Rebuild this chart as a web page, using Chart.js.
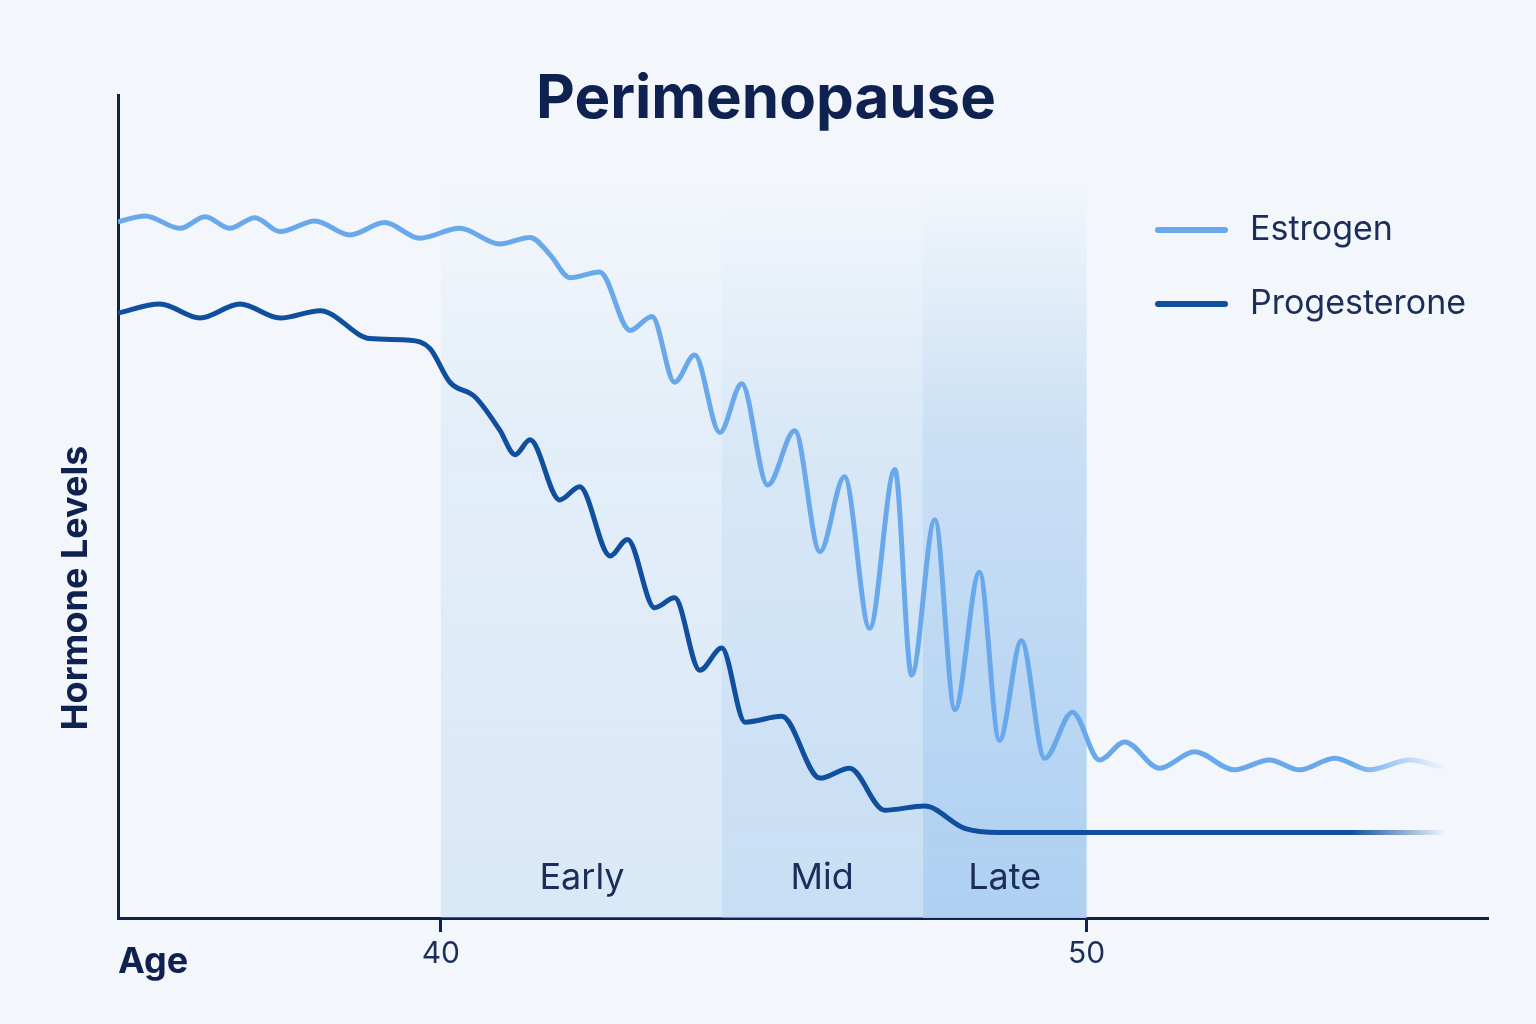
<!DOCTYPE html>
<html><head><meta charset="utf-8">
<script src="https://cdn.jsdelivr.net/npm/chart.js@4"></script>
<style>html,body{margin:0;background:#f3f7fb}canvas{display:block}</style>
</head><body>
<div style="width:1536px;height:1024px"><canvas id="c"></canvas></div>
<script>
// ages and levels (arbitrary level units 0-100)
let estrogenAge = [35.00,35.42,35.96,36.35,36.73,37.12,37.51,38.05,38.59,39.13,39.67,40.29,40.91,41.38,41.69,42.00,42.46,42.93,43.27,43.62,43.93,44.32,44.66,45.06,45.48,45.87,46.25,46.64,47.03,47.29,47.65,47.96,48.34,48.65,48.99,49.35,49.78,50.20,50.59,51.13,51.67,52.29,52.83,53.30,53.84,54.38,55.00,55.62]
let estrogen = [84.6,85.3,83.8,85.2,83.8,85.1,83.4,84.7,83.0,84.5,82.6,83.8,81.9,82.7,80.6,77.8,78.5,71.4,73.1,65.1,68.4,59.0,64.9,52.6,59.2,44.5,53.6,35.2,54.5,29.5,48.4,25.3,42.0,21.6,33.7,19.4,25.0,19.2,21.4,18.2,20.2,18.0,19.2,18.0,19.4,18.0,19.2,18.0]
let progAge = [35.00,35.65,36.27,36.89,37.51,38.13,38.90,39.52,39.83,40.14,40.53,40.91,41.15,41.38,41.84,42.15,42.62,42.89,43.31,43.62,44.01,44.35,44.71,45.28,45.87,46.33,46.87,47.49,48.11,48.65,55.62]
let progesterone = [73.5,74.6,72.9,74.6,72.9,73.8,70.4,70.2,69.2,65.1,63.3,59.3,56.3,58.1,50.8,52.4,44.0,46.0,37.7,38.9,30.1,32.8,23.8,24.5,17.0,18.2,13.1,13.6,10.9,10.4,10.4]
let stages = ['Early', 'Mid', 'Late']
let stageStart = [40, 44.35, 47.46]
let stageEnd = [44.35, 47.46, 50]
let ageTicks = [40, 50]

function pts(xs, ys) { return xs.map((x, i) => ({x: x, y: ys[i]})) }

function fadeStroke(color) {
  return function(c) {
    let a = c.chart.chartArea
    if (!a) return color
    let g = c.chart.ctx.createLinearGradient(a.left, 0, a.right, 0)
    g.addColorStop(0, color); g.addColorStop(0.9, color); g.addColorStop(0.97, color + '00')
    return g
  }
}

let decor = {
  id: 'decor',
  beforeDatasetsDraw(chart) {
    let ctx = chart.ctx, x = chart.scales.x, a = chart.chartArea
    let alphas = [0.35, 0.6, 0.95]
    ctx.save()
    stages.forEach((s, i) => {
      let l = x.getPixelForValue(stageStart[i]), r = x.getPixelForValue(stageEnd[i])
      let g = ctx.createLinearGradient(0, 185, 0, a.bottom)
      g.addColorStop(0, 'rgba(170,205,240,0)')
      g.addColorStop(0.35, 'rgba(170,205,240,' + alphas[i] * 0.6 + ')')
      g.addColorStop(1, 'rgba(170,205,240,' + alphas[i] + ')')
      ctx.fillStyle = g
      ctx.fillRect(l, 185, r - l, a.bottom - 185)
      ctx.fillStyle = '#1b2e5a'
      ctx.font = '36px Inter'
      ctx.textAlign = 'center'
      ctx.textBaseline = 'middle'
      let cx = i == 0 ? 582 : (l + r) / 2
      ctx.fillText(s, cx, 878)
    })
    ctx.restore()
  },
  afterDraw(chart) {
    let ctx = chart.ctx
    ctx.save()
    ctx.fillStyle = '#0f2150'
    ctx.textBaseline = 'middle'
    ctx.textAlign = 'center'
    ctx.font = 'bold 60px Inter'
    ctx.fillText('Perimenopause', 766, 100)
    ctx.textAlign = 'left'
    ctx.font = 'bold 36px Inter'
    ctx.fillText('Age', 118, 962)
    ctx.save()
    ctx.translate(76, 588)
    ctx.rotate(-Math.PI / 2)
    ctx.textAlign = 'center'
    ctx.font = 'bold 36px Inter'
    ctx.fillText('Hormone Levels', 0, 0)
    ctx.restore()
    let leg = [['Estrogen', '#6aa8ec', 230], ['Progesterone', '#104e9e', 304]]
    ctx.font = '34px Inter'
    leg.forEach(l => {
      ctx.strokeStyle = l[1]; ctx.lineWidth = 6; ctx.lineCap = 'round'
      ctx.beginPath(); ctx.moveTo(1158, l[2]); ctx.lineTo(1225, l[2]); ctx.stroke()
      ctx.fillStyle = '#1b2e5a'
      ctx.fillText(l[0], 1250, l[2])
    })
    ctx.restore()
  }
}

new Chart(document.getElementById('c'), {
  type: 'line',
  data: {
    datasets: [
      {label: 'Estrogen', data: pts(estrogenAge, estrogen), borderColor: fadeStroke('#6aa8ec'), borderWidth: 5, pointRadius: 0, cubicInterpolationMode: 'monotone'},
      {label: 'Progesterone', data: pts(progAge, progesterone), borderColor: fadeStroke('#104e9e'), borderWidth: 5, pointRadius: 0, cubicInterpolationMode: 'monotone'}
    ]
  },
  options: {
    responsive: true,
    maintainAspectRatio: false,
    animation: false,
    layout: {padding: {left: 118, top: 95, right: 49, bottom: 0}},
    plugins: {legend: {display: false}, tooltip: {enabled: false}},
    scales: {
      x: {
        type: 'linear', min: 35, max: 56.2,
        afterBuildTicks: s => { s.ticks = ageTicks.map(v => ({value: v})) },
        afterFit: s => { s.height = 106 },
        ticks: {color: '#1b2e5a', font: {size: 30, family: 'Inter'}, padding: 4},
        grid: {drawOnChartArea: false, tickLength: 14, color: '#0f2150', lineWidth: 3},
        border: {color: '#0f2150', width: 3}
      },
      y: {
        min: 0, max: 100,
        afterFit: s => { s.width = 0 },
        ticks: {display: false},
        grid: {display: false},
        border: {color: '#0f2150', width: 3}
      }
    }
  },
  plugins: [decor]
})
</script>
</body></html>
